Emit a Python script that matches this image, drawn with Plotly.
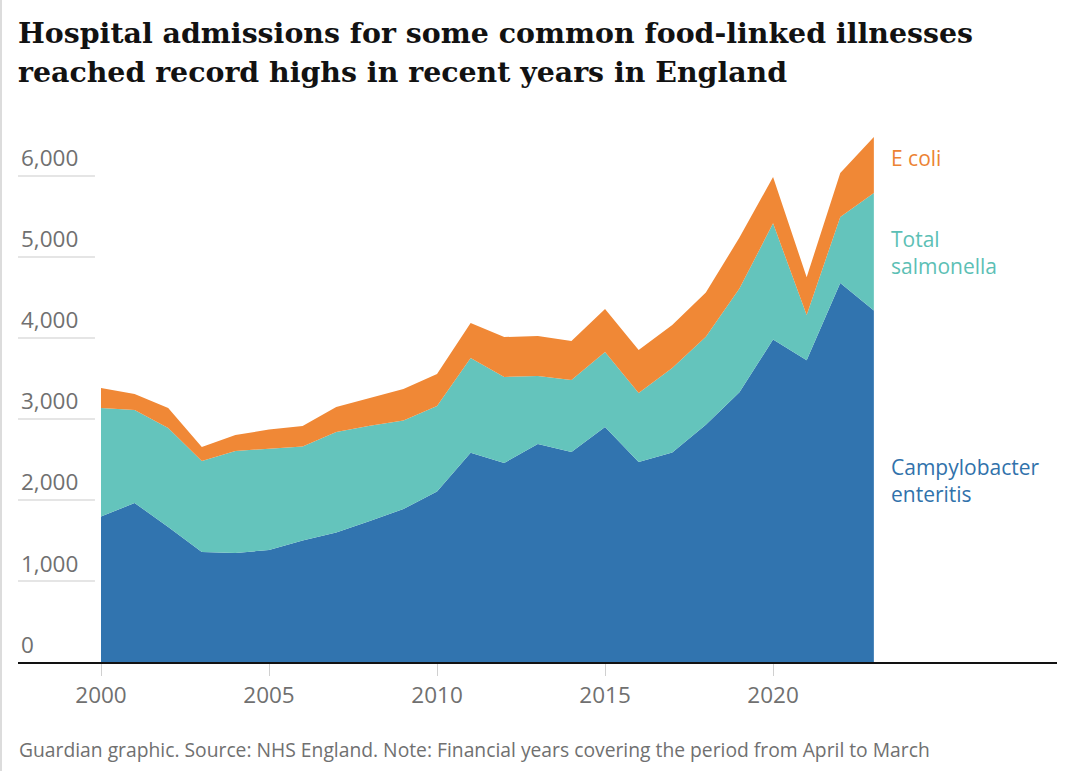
import plotly.graph_objects as go

years = list(range(2000, 2024))
campylobacter = [1795, 1963, 1667, 1358, 1346, 1383, 1500, 1600, 1740, 1890, 2105, 2584,
                 2457, 2691, 2593, 2901, 2469, 2585, 2930, 3330, 3980, 3725, 4679, 4340]
salmonella = [1341, 1148, 1222, 1123, 1259, 1253, 1160, 1240, 1175, 1090, 1055, 1169,
              1062, 840, 888, 926, 852, 1045, 1085, 1280, 1435, 559, 815, 1450]
ecoli = [247, 198, 247, 173, 197, 234, 254, 308, 345, 390, 395, 432,
         493, 494, 482, 531, 531, 530, 545, 630, 573, 466, 543, 691]

y_ticks = [0, 1000, 2000, 3000, 4000, 5000, 6000]
x_ticks = [2000, 2005, 2010, 2015, 2020]

BLUE = "#3174af"
TEAL = "#64c4bc"
ORANGE = "#f08836"
GREY = "#707070"
SANS = "Open Sans, Noto Sans, sans-serif"

W, H = 1080, 771
L, R, T, B = 18, 23, 120, 109
PW, PH = W - L - R, H - T - B
XMIN, XMAX = 1997.53, 2028.45
YMAX = 6691


def py(pixel_y):
    """paper y from pixel row"""
    return (H - B - pixel_y) / PH


def px(pixel_x):
    return (pixel_x - L) / PW


fig = go.Figure()
for name, vals, col in [("Campylobacter enteritis", campylobacter, BLUE),
                        ("Total salmonella", salmonella, TEAL),
                        ("E coli", ecoli, ORANGE)]:
    fig.add_trace(go.Scatter(x=years, y=vals, name=name, mode="lines",
                             stackgroup="one", line=dict(width=0, color=col),
                             fillcolor=col, hoverinfo="skip"))

shapes = []
annotations = []
for v in y_ticks:
    if v > 0:
        shapes.append(dict(type="line", xref="x", yref="y", x0=XMIN, x1=1999.82,
                           y0=v, y1=v, line=dict(color="#dcdcdc", width=1.5), layer="below"))
    annotations.append(dict(xref="x", yref="y", x=XMIN + 1 / 33.6, y=v, text=f"{v:,}",
                            showarrow=False, xanchor="left", yanchor="middle", yshift=18,
                            font=dict(family=SANS, size=22.5, color=GREY)))

# left border line
shapes.append(dict(type="line", xref="paper", yref="paper", x0=px(1), x1=px(1),
                   y0=py(H), y1=py(0), line=dict(color="#dcdcdc", width=2)))

lx = px(889)
annotations.append(dict(xref="paper", yref="paper", x=lx, y=py(158), text="E coli",
                        showarrow=False, xanchor="left", yanchor="middle",
                        font=dict(family=SANS, size=21, color="#ec8333")))
annotations.append(dict(xref="paper", yref="paper", x=lx, y=py(252), text="Total<br>salmonella",
                        showarrow=False, xanchor="left", yanchor="middle", align="left",
                        font=dict(family=SANS, size=21, color="#5cbfb5")))
annotations.append(dict(xref="paper", yref="paper", x=lx, y=py(480), text="Campylobacter<br>enteritis",
                        showarrow=False, xanchor="left", yanchor="middle", align="left",
                        font=dict(family=SANS, size=21, color="#3172ab")))

annotations.append(dict(xref="paper", yref="paper", x=px(17), y=py(749),
                        text="Guardian graphic. Source: NHS England. Note: Financial years covering the period from April to March",
                        showarrow=False, xanchor="left", yanchor="middle",
                        font=dict(family=SANS, size=19.3, color=GREY)))

title_lines = ["Hospital admissions for some common food-linked illnesses",
               "reached record highs in recent years in England"]
for text, cy in zip(title_lines, [33, 72]):
    annotations.append(dict(xref="paper", yref="paper", x=px(16), y=py(cy), text=text,
                            showarrow=False, xanchor="left", yanchor="middle",
                            font=dict(family="DejaVu Serif, serif", size=28.4, color="#121212",
                                      weight="bold")))

fig.update_layout(
    width=W, height=H,
    margin=dict(l=L, r=R, t=T, b=B),
    paper_bgcolor="white", plot_bgcolor="white",
    showlegend=False,
    xaxis=dict(range=[XMIN, XMAX], tickvals=x_ticks, ticktext=[str(x) for x in x_ticks],
               showgrid=False, zeroline=False, showline=True, linecolor="#121212", linewidth=2,
               ticks="outside", ticklen=12, tickcolor="#d0d0d0", tickwidth=1,
               tickfont=dict(family=SANS, size=22.5, color=GREY)),
    yaxis=dict(range=[0, YMAX], showgrid=False, zeroline=False, showticklabels=False,
               showline=False),
    shapes=shapes, annotations=annotations,
)

fig.write_html("out.html", config={"displayModeBar": False},
               post_script="document.body.style.margin='0px';")
